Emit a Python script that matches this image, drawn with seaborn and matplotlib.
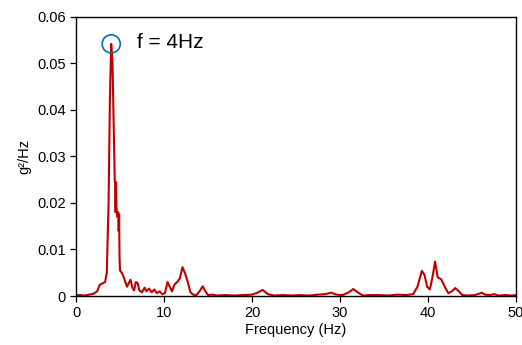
import numpy as np
import pandas as pd
import matplotlib
matplotlib.use("Agg")
import matplotlib.pyplot as plt
import seaborn as sns

# ── Data ───────────────────────────────────────────────────
freq = [0.0, 0.5, 1.0, 1.5, 2.0, 2.4, 2.7, 3.0, 3.3, 3.5, 3.7, 3.85, 4.0,
        4.15, 4.3, 4.4, 4.45, 4.5, 4.55, 4.6, 4.7, 4.8, 4.85, 4.9, 4.95,
        5.0, 5.2, 5.4, 5.6, 5.8, 6.0, 6.2, 6.4, 6.6, 6.8, 7.0, 7.2, 7.5,
        7.8, 8.0, 8.3, 8.6, 8.9, 9.2, 9.5, 9.8, 10.1, 10.4, 10.6, 10.9,
        11.2, 11.5, 11.8, 12.1, 12.4, 12.7, 13.0, 13.3, 13.7, 14.1, 14.4,
        14.7, 15.0, 15.5, 16.0, 17.0, 18.0, 19.0, 20.0, 20.6, 21.2, 21.8,
        22.5, 23.5, 24.5, 25.5, 26.5, 27.5, 28.3, 29.0, 29.6, 30.3, 31.0,
        31.5, 32.0, 32.6, 33.5, 34.5, 35.5, 36.5, 37.5, 38.3, 38.8, 39.3,
        39.6, 39.9, 40.2, 40.5, 40.8, 41.1, 41.5, 41.9, 42.3, 42.7, 43.1,
        43.5, 43.9, 44.5, 45.3, 45.8, 46.1, 46.5, 47.0, 47.5, 48.0, 48.8,
        49.5, 50.0]
psd = [0.0002, 0.0002, 0.0001, 0.0003, 0.0005, 0.0010, 0.0024, 0.0027,
       0.0030, 0.0050, 0.0200, 0.0420, 0.0542, 0.0500, 0.0350, 0.0250,
       0.0240, 0.0180, 0.0245, 0.0190, 0.0170, 0.0180, 0.0140, 0.0175,
       0.0080, 0.0055, 0.0050, 0.0042, 0.0030, 0.0020, 0.0028, 0.0035,
       0.0018, 0.0012, 0.0030, 0.0028, 0.0012, 0.0008, 0.0018, 0.0010,
       0.0016, 0.0008, 0.0014, 0.0006, 0.0010, 0.0004, 0.0006, 0.0030,
       0.0022, 0.0010, 0.0025, 0.0030, 0.0038, 0.0062, 0.0048, 0.0030,
       0.0008, 0.0003, 0.0002, 0.0012, 0.0021, 0.0010, 0.0002, 0.0003,
       0.0001, 0.0002, 0.0001, 0.0002, 0.0003, 0.0007, 0.0013, 0.0004,
       0.0001, 0.0002, 0.0001, 0.0002, 0.0001, 0.0003, 0.0004, 0.0007,
       0.0003, 0.0002, 0.0008, 0.0015, 0.0008, 0.0001, 0.0002, 0.0002,
       0.0001, 0.0003, 0.0002, 0.0004, 0.0020, 0.0054, 0.0045, 0.0020,
       0.0014, 0.0040, 0.0074, 0.0040, 0.0036, 0.0020, 0.0006, 0.0010,
       0.0017, 0.0010, 0.0002, 0.0001, 0.0002, 0.0005, 0.0007, 0.0003,
       0.0002, 0.0004, 0.0001, 0.0002, 0.0001, 0.0002]

x_ticks = [0, 10, 20, 30, 40, 50]
y_ticks = [0, 0.01, 0.02, 0.03, 0.04, 0.05, 0.06]
y_tick_labels = ["0", "0.01", "0.02", "0.03", "0.04", "0.05", "0.06"]

df = pd.DataFrame({"Frequency": freq, "PSD": psd})
peak = df.loc[df["PSD"].idxmax()]

# ── Style ─────────────────────────────────────────────────
sns.set_style("ticks")
plt.rcParams["font.family"] = ["Liberation Sans", "DejaVu Sans"]
plt.rcParams["text.color"] = "black"
plt.rcParams["axes.labelcolor"] = "black"

fig = plt.figure(figsize=(5.22, 3.45), dpi=100)
ax = fig.add_axes([0.1456, 0.142, 0.843, 0.809])

sns.lineplot(data=df, x="Frequency", y="PSD", color="#C00000",
             linewidth=1.5, sort=False, estimator=None, ax=ax)
ax.scatter([peak["Frequency"]], [peak["PSD"]], s=170, facecolors="none",
           edgecolors="#0070C0", linewidths=1.2, zorder=3)
ax.text(6.9, 0.0544, "f = 4Hz", fontsize=15, va="center", ha="left",
        color="black")

ax.set_xlim(0, 50)
ax.set_ylim(0, 0.06)
ax.set_xticks(x_ticks)
ax.set_yticks(y_ticks)
ax.set_yticklabels(y_tick_labels)
ax.tick_params(axis="both", labelsize=10.5, direction="out", length=4,
               width=0.9, color="black", labelcolor="black")
ax.set_xlabel("Frequency (Hz)", fontsize=10.5, labelpad=2, color="black")
ax.set_ylabel("g²/Hz", fontsize=10.5, labelpad=4, color="black")
for s in ax.spines.values():
    s.set_color("black")
    s.set_linewidth(1.0)

fig.savefig("out.png", dpi=100)
